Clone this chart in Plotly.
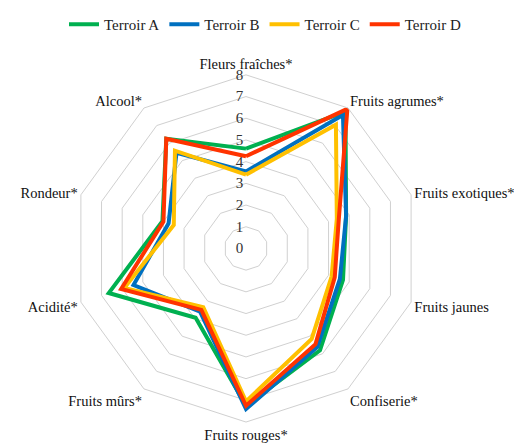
import plotly.graph_objects as go

categories = ["Fleurs fraîches*", "Fruits agrumes*", "Fruits exotiques*", "Fruits jaunes",
              "Confiserie*", "Fruits rouges*", "Fruits mûrs*", "Acidité*", "Rondeur*", "Alcool*"]

terroir_a = [4.6, 7.8, 4.85, 4.7, 5.8, 7.25, 3.95, 6.65, 4.05, 6.25]
terroir_b = [3.55, 7.6, 4.85, 4.55, 5.6, 7.4, 3.6, 5.45, 3.75, 5.45]
terroir_c = [3.4, 7.05, 4.4, 4.15, 5.15, 7.05, 3.35, 5.9, 3.5, 5.57]
terroir_d = [4.25, 7.95, 4.5, 4.3, 5.45, 7.25, 3.5, 6.05, 4.0, 6.25]

series_names = ["Terroir A", "Terroir B", "Terroir C", "Terroir D"]
series_values = [terroir_a, terroir_b, terroir_c, terroir_d]
colors = ["#00b050", "#0070c0", "#ffc000", "#ff3300"]

tick_vals = [0, 1, 2, 3, 4, 5, 6, 7, 8]

FONT = "Liberation Serif, Times New Roman, serif"

fig = go.Figure()
for name, vals, col in zip(series_names, series_values, colors):
    fig.add_trace(go.Scatterpolar(
        r=vals + vals[:1],
        theta=categories + categories[:1],
        mode="lines",
        name=name,
        line=dict(color=col, width=4),
    ))

# page body has an 8px margin; figure sized/positioned to compensate
W, H = 514, 436
cx, cy, R = 238, 240, 174
fig.update_layout(
    width=W, height=H,
    margin=dict(l=0, r=0, t=0, b=0),
    paper_bgcolor="white",
    plot_bgcolor="white",
    font=dict(family=FONT, size=15, color="#222222"),
    showlegend=True,
    legend=dict(orientation="h", x=0.5, xanchor="center", y=1 - 16 / H, yanchor="middle",
                font=dict(family=FONT, size=15, color="#222222"), itemwidth=30, tracegroupgap=0),
    polar=dict(
        domain=dict(x=[(cx - R) / W, (cx + R) / W], y=[(H - cy - R) / H, (H - cy + R) / H]),
        bgcolor="white",
        gridshape="linear",
        radialaxis=dict(
            range=[0, 8], tickvals=tick_vals, ticktext=[str(v) for v in tick_vals],
            angle=90, tickangle=90, side="counterclockwise", showline=False, ticks="",
            gridcolor="#d0d0d0", gridwidth=1,
            tickfont=dict(family=FONT, size=15, color="#333333"),
        ),
        angularaxis=dict(
            direction="clockwise", rotation=90, showgrid=False,
            showline=True, linecolor="#d0d0d0", linewidth=1, ticks="", ticklen=0,
            tickfont=dict(family=FONT, size=14.5, color="#111111"),
        ),
    ),
)

fig.write_html("out.html")
